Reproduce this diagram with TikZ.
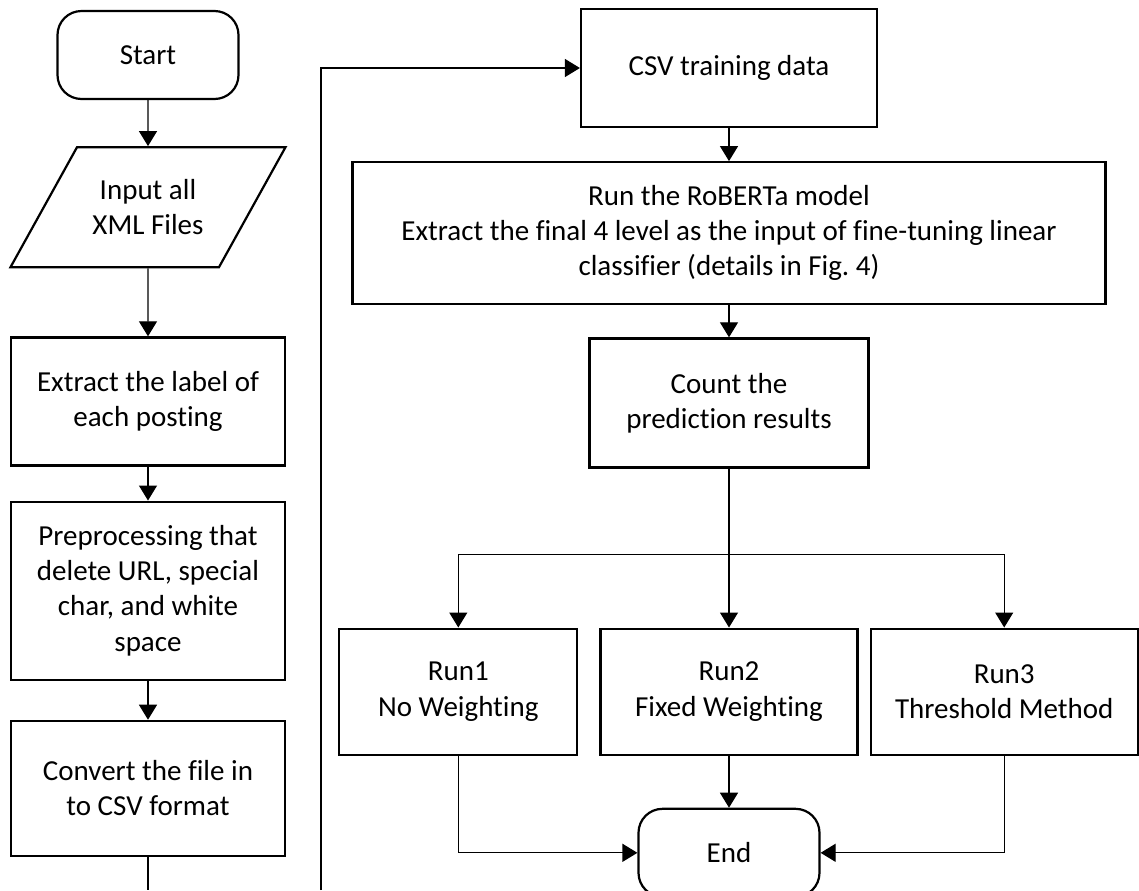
\documentclass[tikz,border=0pt]{standalone}
\usepackage{fontspec}
\setmainfont{Carlito}[Ligatures=NoCommon]
\usepackage{tikz}
\usetikzlibrary{positioning, calc, shapes.geometric, shapes.misc, arrows.meta}

\begin{document}
\begin{tikzpicture}[
        font=\fontsize{14.5pt}{17.6pt}\selectfont,
        terminal/.style={rectangle, rounded corners=12pt, draw, line width=1.1pt, minimum width=90.5pt, minimum height=44pt, align=center},
        io/.style={trapezium, trapezium left angle=46, trapezium right angle=134, trapezium stretches body, draw, line width=1.1pt, minimum width=137.5pt, minimum height=60pt, align=center},
        process/.style={rectangle, draw, line width=1.1pt, minimum width=137pt, align=center},
        runbox/.style={rectangle, draw, line width=1.1pt, minimum height=63pt, align=center},
        arrow/.style={-{Triangle[width=9pt, length=7.5pt]}, line width=0.6pt},
        line/.style={line width=0.6pt}
    ]

        % page frame
        \useasboundingbox (-74pt,27.5pt) rectangle (495.5pt,-417.5pt);
        \coordinate (pageend) at (0,-417.5pt);
        \coordinate (loop) at (86.5pt,-417.5pt);

        % Nodes (left column)
        \node [terminal] (start) at (0,0) {Start};
        \node [io, below=23pt of start] (input) {Input all\\XML Files};
        \node [process, minimum height=64pt, below=34pt of input] (label) {Extract the label of\\each posting};
        \node [process, minimum height=89pt, below=17pt of label] (clean) {Preprocessing that\\delete URL, special\\char, and white\\space};
        \node [process, minimum height=67.5pt, below=19.5pt of clean] (convert) {Convert the file in\\to CSV format};

        % Nodes (right column)
        \node [process, minimum width=148pt, minimum height=59pt] (csv) at (290.5pt,-6.5pt) {CSV training data};
        \node [process, minimum width=376.5pt, minimum height=71pt, below=16.5pt of csv] (roberta) {Run the RoBERTa model\\Extract the final 4 level as the input of fine-tuning linear\\classifier (details in Fig.\ 4)};
        \node [process, minimum width=139.5pt, minimum height=64.5pt, below=16pt of roberta] (count) {Count the\\prediction results};

        \node [runbox, minimum width=128.5pt, below=79.5pt of count] (run2) {Run2\\Fixed Weighting};
        \node [runbox, minimum width=119pt, left=10.5pt of run2] (run1) {Run1\\No Weighting};
        \node [runbox, minimum width=133.5pt, right=5.5pt of run2] (run3) {Run3\\Threshold Method};
        \node [terminal, below=26pt of run2] (end) {End};

        \coordinate [below=43pt of count.south] (split);

        % Edges
        \draw [arrow] (start) -- (input);
        \draw [arrow] (input) -- (label);
        \draw [arrow] (label) -- (clean);
        \draw [arrow] (clean) -- (convert);
        \draw [line] (convert) -- (convert.south |- pageend);
        \draw [arrow] (loop) |- (csv);

        \draw [arrow] (csv) -- (roberta);
        \draw [arrow] (roberta) -- (count);
        \draw [arrow] (count.south) -- (count.south |- run2.north);
        \draw [arrow] (split) -| (run1);
        \draw [arrow] (split) -| (run3);

        \draw [arrow] (run2) -- (end);
        \draw [arrow] (run1) |- (end);
        \draw [arrow] (run3) |- (end);

\end{tikzpicture}
\end{document}
